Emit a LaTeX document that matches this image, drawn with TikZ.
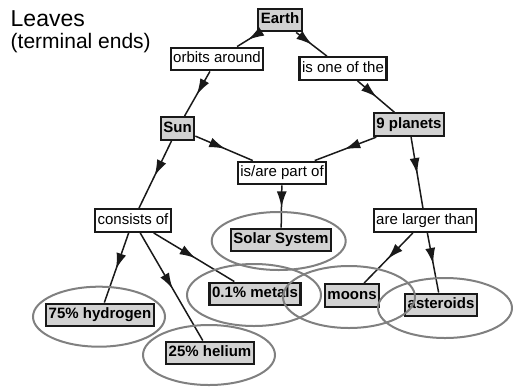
\documentclass[tikz,border=0pt]{standalone}
\usepackage{fontspec}
\setmainfont{Liberation Sans}
\usetikzlibrary{arrows.meta,decorations.markings}
\begin{document}
\begin{tikzpicture}[x=1pt,y=-1pt,
 concept/.style={draw=black!90, line width=2.2pt, fill=gray!35, font=\fontsize{15}{17}\selectfont\bfseries, text height=10.5pt, text depth=3pt, inner xsep=2.6pt, inner ysep=4.6pt},
 linkbox/.style={draw=black!90, line width=2.2pt, fill=white, font=\fontsize{15}{17}\selectfont, text height=10.5pt, text depth=3pt, inner xsep=2.6pt, inner ysep=4.6pt},
 leaf/.style={draw=black!50, line width=2pt},
 conn/.style={line width=1.5pt, draw=black!90, postaction={decorate}, decoration={markings, mark=at position 0.52 with {\arrow{Latex[length=16pt,width=10pt]}}}},
 title/.style={anchor=base west, inner sep=0pt},
]
\useasboundingbox (0,0) rectangle (513,386);
\node[title, font=\fontsize{23}{26}\selectfont] (t1) at (10.5,26.5) {Leaves};
\node[title, font=\fontsize{21}{24}\selectfont] (t2) at (10.5,48.5) {(terminal ends)};

\node[concept] (earth) at (280,20) {Earth};
\node[linkbox] (orbits) at (217,59) {orbits around};
\node[linkbox] (isone) at (343,68.5) {is one of the};
\node[concept] (planets) at (409,124.7) {9 planets};
\node[concept] (sun) at (177.5,128.5) {Sun};
\node[linkbox] (ispart) at (282,173) {is/are part of};
\node[linkbox] (consists) at (133,220.5) {consists of};
\node[linkbox] (larger) at (425,220.5) {are larger than};
\node[concept] (solar) at (281,240) {Solar System};
\node[concept] (metals) at (255,294) {0.1\% metals};
\node[concept] (hydrogen) at (100,315) {75\% hydrogen};
\node[concept] (helium) at (210,353) {25\% helium};
\node[concept] (moons) at (352,295.5) {moons};
\node[concept] (asteroids) at (441,305) {asteroids};

\draw[conn] (earth) -- (orbits);
\draw[conn] (orbits) -- (sun);
\draw[conn] (earth) -- (isone);
\draw[conn] (isone) -- (planets);
\draw[conn] (sun) -- (ispart);
\draw[conn] (planets) -- (ispart);
\draw[conn] (ispart) -- (solar);
\draw[conn] (sun) -- (consists);
\draw[conn] (planets) -- (larger);
\draw[conn] (consists) -- (hydrogen);
\draw[conn] (consists) -- (helium);
\draw[conn] (consists) -- (metals);
\draw[conn] (larger) -- (moons);
\draw[conn] (larger) -- (asteroids);

\draw[leaf] (278.7,241) ellipse [x radius=67pt, y radius=29pt];
\draw[leaf] (254,295) ellipse [x radius=67pt, y radius=31pt];
\draw[leaf] (99,316.7) ellipse [x radius=66pt, y radius=30pt];
\draw[leaf] (209,355) ellipse [x radius=66pt, y radius=30pt];
\draw[leaf] (349,297) ellipse [x radius=66pt, y radius=31pt];
\draw[leaf] (445,308) ellipse [x radius=67pt, y radius=30pt];
\end{tikzpicture}
\end{document}
